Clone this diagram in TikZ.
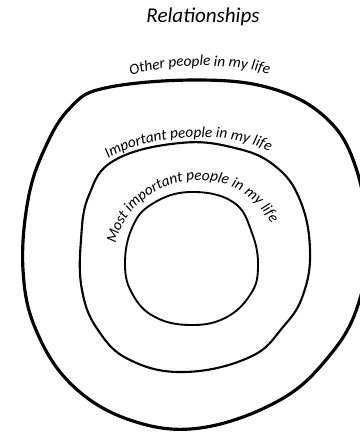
\documentclass[tikz,border=0pt]{standalone}
\usepackage{fontspec}
\setmainfont{Carlito}
\usetikzlibrary{decorations.text}
\newcommand{\ringfont}{\fontsize{13}{13}\selectfont\itshape}

\tikzset{
  ring/.style={line width=#1, line join=round},
  ringlabel/.style={decorate, decoration={text along path, text align=center,
      text={|\ringfont|#1}}}
}

\begin{document}
\begin{tikzpicture}[x=0.03cm, y=-0.03cm]
    \useasboundingbox (0,0) rectangle (360,435);
    \clip (0,0) rectangle (360,435);

    % Title
    \node (title) at (203,17) {\fontsize{18}{18}\selectfont\itshape Relationships};

    % Outer ring
    \draw[ring=2.7pt] plot[smooth cycle, tension=0.65] coordinates {
      (195,80) (270,88) (325,117) (355,165) (368,240) (358,305) (330,355)
      (280,400) (200,428) (130,420) (72,385) (36,330) (23,270) (28,200)
      (45,148) (70,108) (105,88)};

    % Middle ring
    \draw[ring=1.8pt] plot[smooth cycle, tension=0.7] coordinates {
      (180,143) (235,148) (275,166) (300,200) (310,250) (303,295) (283,327)
      (250,357) (185,372) (130,360) (98,330) (82,290) (81,240) (89,195)
      (115,160)};

    % Inner ring
    \draw[ring=1.6pt] plot[smooth cycle, tension=0.7] coordinates {
      (190,192) (233,202) (252,233) (258,268) (250,295) (225,318) (190,325)
      (155,317) (133,295) (125,265) (132,228) (152,204)};

    % Labels along the rings
    \path[ringlabel={Other people in my life}]
      (120,80) .. controls (158,62) and (237,61) .. (280,78);
    \path[ringlabel={Important people in my life}]
      (96,168) .. controls (133,132) and (242,125) .. (282,160);
    \path[ringlabel={Most important people in my life}]
      (114,264) .. controls (112,172) and (247,143) .. (279,242);
\end{tikzpicture}
\end{document}
